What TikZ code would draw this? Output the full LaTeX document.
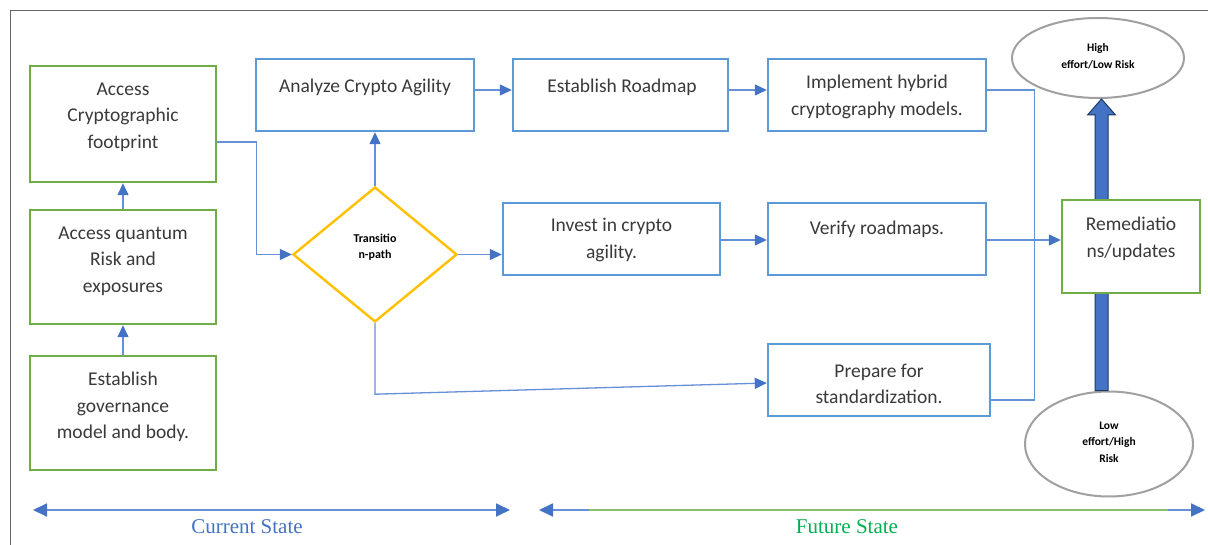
\documentclass[tikz,border=0pt]{standalone}
\usepackage{fontspec}
\setmainfont{Carlito}
\newfontfamily\serifface{Liberation Serif}
\usetikzlibrary{shapes.geometric,arrows.meta,calc}
\definecolor{boxblue}{HTML}{5B9BD5}
\definecolor{boxgreen}{HTML}{70AD47}
\definecolor{diayellow}{HTML}{FFC000}
\definecolor{connblue}{HTML}{6690D8}
\definecolor{tipblue}{HTML}{4472C4}
\definecolor{arrdark}{HTML}{203864}
\definecolor{ellgray}{HTML}{A0A0A0}
\definecolor{txtgray}{HTML}{3A3A3A}
\definecolor{futgreen}{HTML}{00B050}
\tikzset{
  bbox/.style={draw=boxblue, line width=2.4pt, fill=white, inner sep=0pt},
  gbox/.style={draw=boxgreen, line width=2.4pt, fill=white, inner sep=0pt},
  txt/.style={align=center, text=txtgray, inner sep=0pt, font=\fontsize{19.5}{26.5}\selectfont},
  smalltxt/.style={align=center, text=black, inner sep=0pt, font=\bfseries\fontsize{11.5}{16.5}\selectfont},
  conn/.style={draw=connblue, line width=1.3pt},
  tip/.style={-{Triangle[length=12pt,width=11pt,color=tipblue]}},
  ell/.style={ellipse, draw=ellgray, line width=2pt, fill=white, inner sep=0pt},
}
\begin{document}
\begin{tikzpicture}[x=1pt,y=-1pt]
\useasboundingbox (0,0) rectangle (1208,545);
\fill[white] (0,0) rectangle (1208,545);
\draw[gray!80!black, line width=1pt] (10,545) -- (10,11) -- (1208,11);

% ellipses and thick arrow
\node[ell, minimum width=172pt, minimum height=80pt] (high) at (1098,58) {};
\node[smalltxt] (hight) at (1098,56) {High\\effort/Low Risk};
\node[ell, minimum width=168pt, minimum height=105pt] (low) at (1109,444) {};
\node[smalltxt] (lowt) at (1109,442) {Low\\effort/High\\Risk};
\coordinate (ax) at (1101.5,0);
\draw[fill=tipblue, draw=arrdark, line width=1pt, line join=miter]
  ($(ax |- low.north)+(-6.5,0)$) -- ($(ax |- high.south)+(-6.5,16)$) -- ($(ax |- high.south)+(-14,16)$)
  -- (ax |- high.south) -- ($(ax |- high.south)+(14,16)$) -- ($(ax |- high.south)+(6.5,16)$)
  -- ($(ax |- low.north)+(6.5,0)$) -- cycle;

% green boxes
\node[gbox, minimum width=186pt, minimum height=116pt] (foot) at (123,124) {};
\node[txt] (foott) at (123,117) {Access\\Cryptographic\\footprint};
\node[gbox, minimum width=186pt, minimum height=114pt] (risk) at (123,267) {};
\node[txt] (riskt) at (123,261) {Access quantum\\Risk and\\exposures};
\node[gbox, minimum width=186pt, minimum height=114pt] (gov) at (123,413) {};
\node[txt] (govt) at (123,407) {Establish\\governance\\model and body.};

% diamond
\node[diamond, draw=diayellow, line width=2.4pt, fill=white, minimum width=164pt, minimum height=135pt, inner sep=0pt] (dia) at (375,254.5) {};
\node[smalltxt, font=\bfseries\fontsize{12}{16.5}\selectfont] (diat) at (375,247) {Transitio\\n-path};

% blue boxes
\node[bbox, minimum width=218pt, minimum height=72pt] (analyze) at (365,95) {};
\node[txt] (analyzet) at (365,87) {Analyze Crypto Agility};
\node[bbox, minimum width=215pt, minimum height=72pt] (roadmap) at (620.5,95) {};
\node[txt] (roadmapt) at (622,87) {Establish Roadmap};
\node[bbox, minimum width=218pt, minimum height=72pt] (impl) at (877,95) {};
\node[txt] (implt) at (877,97) {Implement hybrid\\cryptography models.};
\node[bbox, minimum width=217pt, minimum height=72pt] (invest) at (611.5,239) {};
\node[txt] (investt) at (611.5,240) {Invest in crypto\\agility.};
\node[bbox, minimum width=218pt, minimum height=72pt] (verify) at (877,239) {};
\node[txt] (verifyt) at (877,229) {Verify roadmaps.};
\node[bbox, minimum width=222pt, minimum height=72pt] (prep) at (879,380) {};
\node[txt] (prept) at (879,384) {Prepare for\\standardization.};
\node[gbox, minimum width=138pt, minimum height=93pt] (remed) at (1131,246.5) {};
\node[txt] (remedt) at (1131,239) {Remediatio\\ns/updates};

% connectors
\draw[conn, tip] (gov.north) -- (risk.south);
\draw[conn, tip] (risk.north) -- (foot.south);
\draw[conn, tip] ([yshift=-18pt]foot.east) -- ++(39,0) |- (dia.west);
\draw[conn, tip] (dia.north) -- (dia.north |- analyze.south);
\draw[conn, tip] (dia.east) -- (dia.east -| invest.west);
\draw[conn, tip] ([yshift=5pt]analyze.east) -- ([yshift=5pt]roadmap.west);
\draw[conn, tip] ([yshift=5pt]roadmap.east) -- ([yshift=5pt]impl.west);
\draw[conn, tip] ([yshift=-1pt]invest.east) -- ([yshift=-1pt]verify.west);
\draw[conn] ([yshift=5pt]impl.east) -- ++(47,0) |- ([yshift=-20pt]prep.east);
\draw[conn, tip] ([yshift=-1pt]verify.east) -- ([yshift=-1pt]verify.east -| remed.west);
\draw[conn, tip] (dia.south) -- ++(0,71) -- ([yshift=-3pt]prep.west);

% bottom state arrows
\coordinate (cs1) at (33,510);
\coordinate (cs2) at (510,510);
\coordinate (fs1) at (539,510);
\coordinate (fs2) at (1205,510);
\coordinate (fg1) at (589,510);
\coordinate (fg2) at (1168,510);
\draw[conn, line width=1.8pt, {Triangle[length=14pt,width=13pt,color=tipblue]}-{Triangle[length=14pt,width=13pt,color=tipblue]}] (cs1) -- (cs2);
\draw[conn, line width=1.8pt, {Triangle[length=14pt,width=13pt,color=tipblue]}-{Triangle[length=14pt,width=13pt,color=tipblue]}] (fs1) -- (fs2);
\draw[draw=boxgreen!80, line width=2pt] (fg1) -- (fg2);
\node[text=tipblue, font=\serifface\fontsize{21}{24}\selectfont, inner sep=0pt] (cur) at (247,527) {Current State};
\node[text=futgreen, font=\serifface\fontsize{21}{24}\selectfont, inner sep=0pt] (fut) at (847,527) {Future State};
\end{tikzpicture}
\end{document}
